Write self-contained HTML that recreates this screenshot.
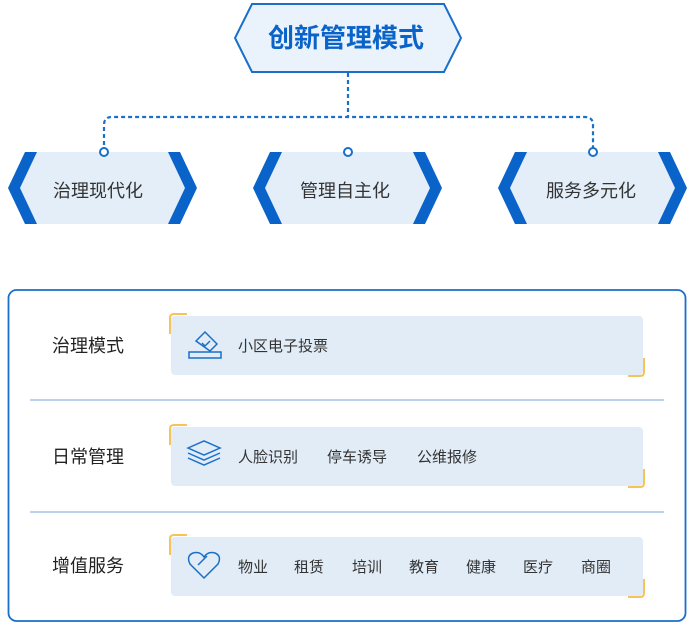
<!DOCTYPE html>
<html><head><meta charset="utf-8"><style>
body{margin:0;width:695px;height:624px;background:#fff;position:relative;overflow:hidden;font-family:"Liberation Sans","Noto Sans CJK SC",sans-serif;}
.a{position:absolute;white-space:nowrap}
.lab{font-size:18px;color:#222;}
.it{font-size:15px;color:#333;}
</style></head><body>
<svg class="a" style="left:0;top:0" width="695" height="624">
<polygon points="252,4 444,4 461,38 444,72 252,72 235,38" fill="#eaf2fb" stroke="#1a6fc9" stroke-width="2"/>
<path d="M348,73 V117 M104,152 V125 Q104,117 112,117 H585 Q593,117 593,125 V152" fill="none" stroke="#1a6fc9" stroke-width="2.2" stroke-dasharray="4,3"/>
<g id="n">
<polygon points="37,152 170,152 187,188 170,224 37,224 20,188" fill="#e3eef8"/>
<polygon points="25,152 37,152 20,188 37,224 25,224 8,188" fill="#0a63c9"/>
<polygon points="168,152 180,152 197,188 180,224 168,224 185,188" fill="#0a63c9"/>
</g>
<use href="#n" x="245"/>
<use href="#n" x="490"/>
<circle cx="104" cy="152" r="4" fill="#fff" stroke="#1a6fc9" stroke-width="2"/>
<circle cx="348" cy="152" r="4" fill="#fff" stroke="#1a6fc9" stroke-width="2"/>
<circle cx="593" cy="152" r="4" fill="#fff" stroke="#1a6fc9" stroke-width="2"/>
<rect x="8.5" y="290" width="677" height="331" rx="8" fill="none" stroke="#1a6fc9" stroke-width="1.8"/>
<line x1="30" y1="400" x2="664" y2="400" stroke="#7aa6d8" stroke-width="1"/>
<line x1="30" y1="512" x2="664" y2="512" stroke="#7aa6d8" stroke-width="1"/>
<g id="c">
<rect x="171" y="316" width="472" height="59" rx="4" fill="#e1ecf7"/>
<path d="M170,334 V318 Q170,314 174,314 H187" fill="none" stroke="#f5c35a" stroke-width="2"/>
<path d="M644,358 V372 Q644,376 640,376 H628" fill="none" stroke="#f5c35a" stroke-width="2"/>
</g>
<use href="#c" y="111"/>
<use href="#c" y="221"/>
<g fill="none" stroke="#1a6fc9" stroke-width="1.5">
<path d="M196,341 L205,332 L217,344 L210,351 Z"/><path d="M202,343 l3,3 5,-5"/><path d="M189,352 H221 V358 H189 Z"/>
<path d="M188,448 L204,441 L220,448 L204,455 Z"/><path d="M188,453 L204,460 L220,453"/><path d="M188,458 L204,465 L220,458"/>
<path d="M204,578 L190,564 Q186,556 193,553 Q200,551 204,557 Q208,551 215,553 Q222,556 218,564 Z"/><path d="M198,565 L207,556"/>
</g>
</svg>
<div class="a" style="left:268px;top:18px;font-size:26px;color:#0a63c9;font-weight:bold;">创新管理模式</div>
<div class="a" style="left:53px;top:177px;font-size:18px;color:#333">治理现代化</div>
<div class="a" style="left:300px;top:177px;font-size:18px;color:#333">管理自主化</div>
<div class="a" style="left:546px;top:177px;font-size:18px;color:#333">服务多元化</div>
<div class="a lab" style="left:52px;top:332px">治理模式</div>
<div class="a lab" style="left:52px;top:443px">日常管理</div>
<div class="a lab" style="left:52px;top:552px">增值服务</div>
<div class="a it" style="left:238px;top:335px">小区电子投票</div>
<div class="a it" style="left:238px;top:446px">人脸识别</div>
<div class="a it" style="left:327px;top:446px">停车诱导</div>
<div class="a it" style="left:417px;top:446px">公维报修</div>
<div class="a it" style="left:238px;top:556px">物业</div>
<div class="a it" style="left:294px;top:556px">租赁</div>
<div class="a it" style="left:352px;top:556px">培训</div>
<div class="a it" style="left:409px;top:556px">教育</div>
<div class="a it" style="left:466px;top:556px">健康</div>
<div class="a it" style="left:523px;top:556px">医疗</div>
<div class="a it" style="left:581px;top:556px">商圈</div>
</body></html>
